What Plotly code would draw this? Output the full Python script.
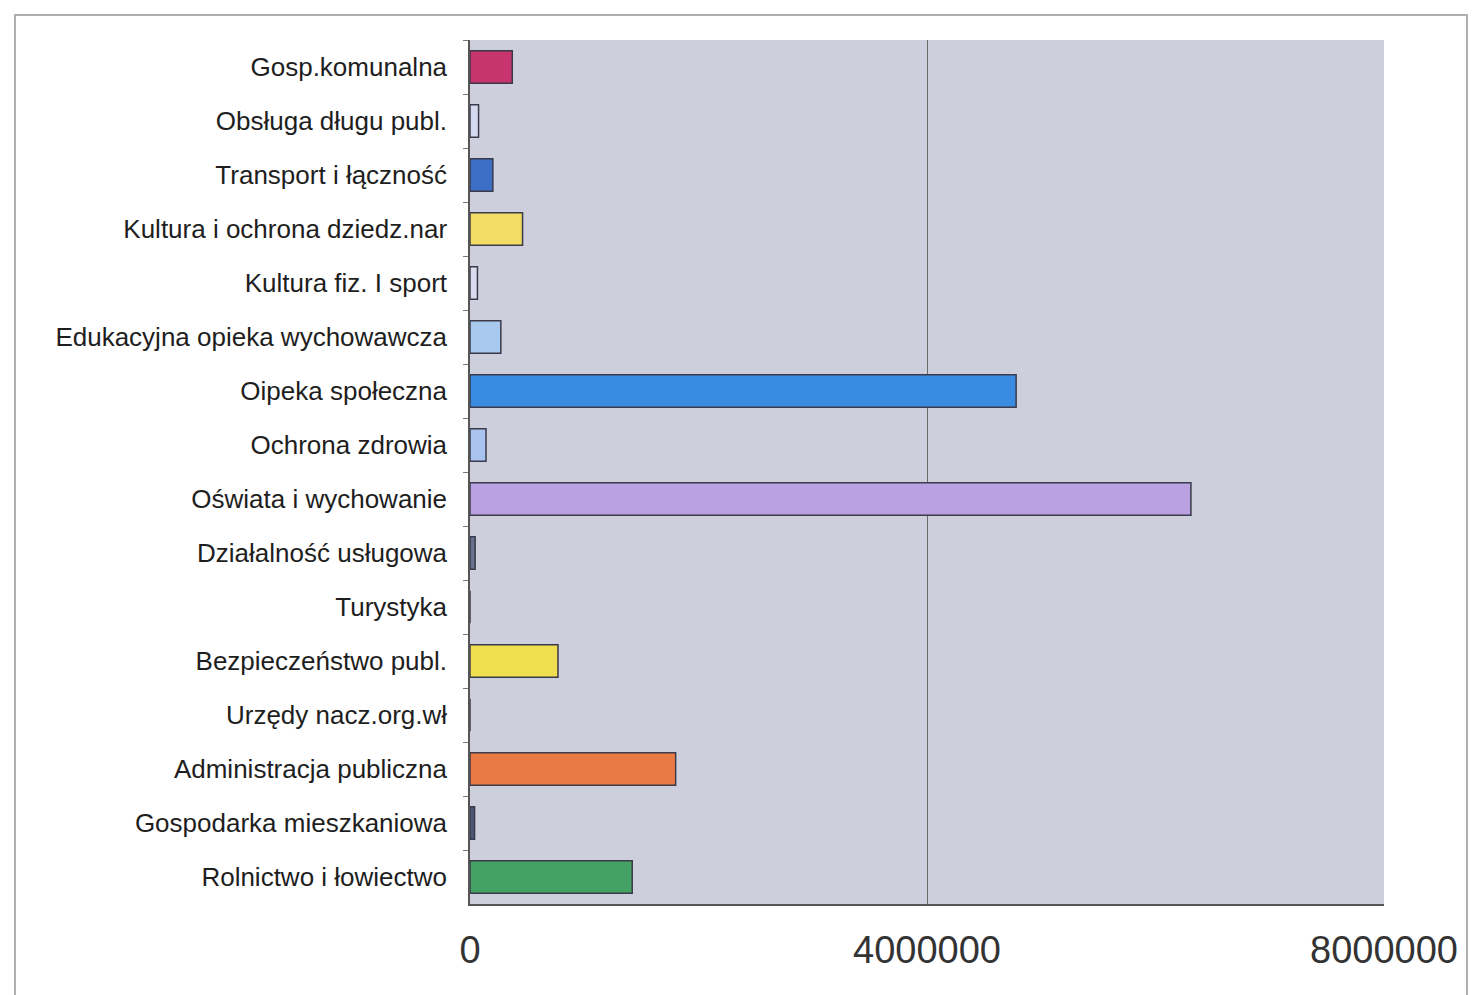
import plotly.graph_objects as go

categories = [
    "Gosp.komunalna",
    "Obsługa długu publ.",
    "Transport i łączność",
    "Kultura i ochrona dziedz.nar",
    "Kultura fiz. I sport",
    "Edukacyjna opieka wychowawcza",
    "Oipeka społeczna",
    "Ochrona zdrowia",
    "Oświata i wychowanie",
    "Działalność usługowa",
    "Turystyka",
    "Bezpieczeństwo publ.",
    "Urzędy nacz.org.wł",
    "Administracja publiczna",
    "Gospodarka mieszkaniowa",
    "Rolnictwo i łowiectwo",
]
values = [370000, 75000, 200000, 460000, 65000, 270000, 4780000, 140000,
          6310000, 45000, 0, 770000, 0, 1800000, 40000, 1420000]
bar_colors = ["#c8346e", "#d6daf0", "#3d6ec6", "#f2dc64", "#dadcf0", "#a9c8f0",
              "#3a8ce2", "#a8c4ee", "#baa2e2", "#6a7090", "#cdd0dc", "#f0e050",
              "#cdd0dc", "#ea7a44", "#4e5676", "#44a264"]
x_ticks = [0, 4000000, 8000000]

fig = go.Figure(go.Bar(
    x=values, y=categories, orientation="h",
    marker=dict(color=bar_colors, line=dict(color="#3a3a4a", width=1.5)),
))

fig.update_layout(
    width=1472, height=987,
    margin=dict(l=462, r=96, t=32, b=91),
    paper_bgcolor="white",
    plot_bgcolor="#cdd0dc",
    bargap=0.4,
    showlegend=False,
    font=dict(family="Liberation Sans, Arial, sans-serif", color="#222222"),
    shapes=[dict(type="rect", xref="paper", yref="paper",
                 x0=-0.4978, x1=1.0908, y0=-0.12, y1=1.029,
                 line=dict(color="#b0b0b0", width=2), fillcolor="rgba(0,0,0,0)",
                 layer="below")],
)
fig.update_xaxes(
    range=[0, 8000000], tickvals=x_ticks, ticktext=[str(v) for v in x_ticks],
    showgrid=True, gridcolor="#6a6a6a", gridwidth=1,
    showline=True, linecolor="#555555", linewidth=1.5, mirror=False,
    zeroline=False, ticks="", tickfont=dict(size=38, color="#333333"),
    ticklabelstandoff=12,
)
fig.update_yaxes(
    autorange="reversed", showgrid=False,
    showline=True, linecolor="#555555", linewidth=1.5,
    ticks="outside", tickson="boundaries", ticklen=5, tickcolor="#777777",
    tickfont=dict(size=26, color="#1e1e1e"), ticklabelstandoff=16,
)

fig.write_html("out.html")
